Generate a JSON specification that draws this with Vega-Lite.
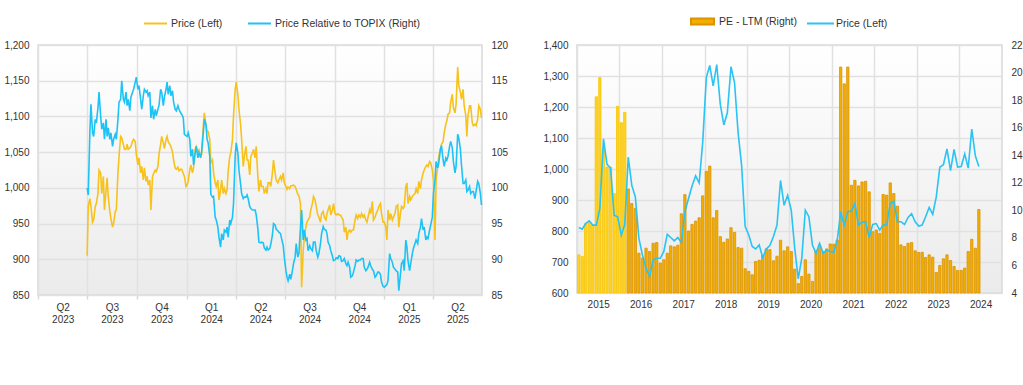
{
"$schema": "https://vega.github.io/schema/vega-lite/v6.json",
"padding": {"left": 3, "top": 8, "right": 0, "bottom": 0},
"background": "white",
"spacing": 33,
"config": {
  "font": "Liberation Sans",
  "view": {"stroke": "#d9d9d9", "strokeWidth": 1.5, "fill": {"gradient": "linear", "x1": 0, "y1": 0, "x2": 0, "y2": 1, "stops": [{"offset": 0, "color": "#ffffff"}, {"offset": 1, "color": "#ebebeb"}]}},
  "axis": {"domain": false, "labelFont": "Liberation Sans", "labelFontSize": 10, "labelColor": "#333333", "gridColor": "#e1e1e1", "gridWidth": 1.5, "ticks": false},
  "legend": {"labelFont": "Liberation Sans", "labelFontSize": 10.5, "labelColor": "#333333", "padding": 0}
},
"resolve": {"scale": {"color": "independent", "fill": "independent", "stroke": "independent"}, "legend": {"color": "independent", "fill": "independent", "stroke": "independent"}},
"datasets": {
"daily": [
{"d":"2023-07-01","p":905,"r":100.0},{"d":"2023-07-03","p":974,"r":99.0},{"d":"2023-07-06","p":985,"r":107.7},{"d":"2023-07-08","p":974,"r":111.7},{"d":"2023-07-11","p":952,"r":107.7},{"d":"2023-07-13","p":955,"r":107.2},{"d":"2023-07-16","p":974,"r":109.6},{"d":"2023-07-18","p":978,"r":109.1},{"d":"2023-07-21","p":992,"r":111.2},{"d":"2023-07-23","p":1025,"r":113.4},{"d":"2023-07-26","p":1021,"r":110.1},{"d":"2023-07-28","p":992,"r":108.2},{"d":"2023-07-31","p":1016,"r":109.1},{"d":"2023-08-02","p":969,"r":106.8},{"d":"2023-08-05","p":997,"r":109.6},{"d":"2023-08-07","p":1014,"r":107.2},{"d":"2023-08-09","p":988,"r":108.4},{"d":"2023-08-12","p":967,"r":106.8},{"d":"2023-08-14","p":957,"r":107.7},{"d":"2023-08-17","p":945,"r":105.8},{"d":"2023-08-19","p":950,"r":106.8},{"d":"2023-08-22","p":967,"r":107.5},{"d":"2023-08-24","p":969,"r":106.8},{"d":"2023-08-27","p":1021,"r":109.6},{"d":"2023-08-29","p":1044,"r":112.0},{"d":"2023-09-01","p":1072,"r":112.4},{"d":"2023-09-03","p":1070,"r":115.0},{"d":"2023-09-06","p":1061,"r":112.4},{"d":"2023-09-08","p":1054,"r":112.0},{"d":"2023-09-11","p":1054,"r":113.4},{"d":"2023-09-13","p":1061,"r":111.5},{"d":"2023-09-15","p":1054,"r":112.4},{"d":"2023-09-18","p":1056,"r":110.8},{"d":"2023-09-20","p":1058,"r":112.7},{"d":"2023-09-23","p":1065,"r":113.4},{"d":"2023-09-25","p":1068,"r":113.8},{"d":"2023-09-28","p":1065,"r":114.8},{"d":"2023-09-30","p":1047,"r":115.5},{"d":"2023-10-03","p":1032,"r":113.8},{"d":"2023-10-05","p":1042,"r":114.3},{"d":"2023-10-08","p":1021,"r":112.4},{"d":"2023-10-10","p":1030,"r":111.0},{"d":"2023-10-13","p":1011,"r":112.9},{"d":"2023-10-15","p":1028,"r":113.8},{"d":"2023-10-18","p":1009,"r":113.4},{"d":"2023-10-20","p":1016,"r":113.6},{"d":"2023-10-22","p":1004,"r":112.9},{"d":"2023-10-25","p":1011,"r":113.4},{"d":"2023-10-27","p":969,"r":109.8},{"d":"2023-10-30","p":1016,"r":111.5},{"d":"2023-11-01","p":1020,"r":109.6},{"d":"2023-11-04","p":1025,"r":111.0},{"d":"2023-11-06","p":1023,"r":110.1},{"d":"2023-11-09","p":1030,"r":111.0},{"d":"2023-11-11","p":1047,"r":111.5},{"d":"2023-11-14","p":1061,"r":113.8},{"d":"2023-11-16","p":1072,"r":113.4},{"d":"2023-11-19","p":1063,"r":111.5},{"d":"2023-11-21","p":1055,"r":112.7},{"d":"2023-11-24","p":1068,"r":113.8},{"d":"2023-11-26","p":1072,"r":114.8},{"d":"2023-11-28","p":1065,"r":113.1},{"d":"2023-12-01","p":1061,"r":114.3},{"d":"2023-12-03","p":1058,"r":112.9},{"d":"2023-12-06","p":1050,"r":113.6},{"d":"2023-12-08","p":1039,"r":112.0},{"d":"2023-12-11","p":1028,"r":111.0},{"d":"2023-12-13","p":1026,"r":110.8},{"d":"2023-12-16","p":1029,"r":111.5},{"d":"2023-12-18","p":1024,"r":111.0},{"d":"2023-12-21","p":1026,"r":110.5},{"d":"2023-12-23","p":1026,"r":110.3},{"d":"2023-12-26","p":1020,"r":109.8},{"d":"2023-12-28","p":1016,"r":107.5},{"d":"2023-12-31","p":1002,"r":107.3},
{"d":"2024-01-02","p":1004,"r":107.2},{"d":"2024-01-04","p":1009,"r":107.7},{"d":"2024-01-07","p":1025,"r":106.8},{"d":"2024-01-09","p":1032,"r":104.4},{"d":"2024-01-12","p":1021,"r":105.4},{"d":"2024-01-14","p":1028,"r":103.2},{"d":"2024-01-17","p":1054,"r":104.9},{"d":"2024-01-19","p":1058,"r":105.8},{"d":"2024-01-22","p":1050,"r":104.2},{"d":"2024-01-24","p":1053,"r":104.9},{"d":"2024-01-27","p":1044,"r":104.2},{"d":"2024-01-29","p":1047,"r":105.1},{"d":"2024-02-01","p":1087,"r":107.7},{"d":"2024-02-03","p":1105,"r":109.6},{"d":"2024-02-06","p":1087,"r":108.9},{"d":"2024-02-08","p":1079,"r":106.8},{"d":"2024-02-10","p":1079,"r":106.3},{"d":"2024-02-13","p":1068,"r":104.4},{"d":"2024-02-15","p":1035,"r":99.1},{"d":"2024-02-18","p":1039,"r":98.7},{"d":"2024-02-20","p":1021,"r":98.8},{"d":"2024-02-23","p":1007,"r":95.9},{"d":"2024-02-25","p":1002,"r":95.5},{"d":"2024-02-28","p":1011,"r":94.5},{"d":"2024-03-01","p":983,"r":93.1},{"d":"2024-03-04","p":997,"r":91.7},{"d":"2024-03-06","p":1011,"r":93.6},{"d":"2024-03-09","p":992,"r":92.7},{"d":"2024-03-11","p":999,"r":94.1},{"d":"2024-03-14","p":992,"r":93.8},{"d":"2024-03-16","p":997,"r":94.5},{"d":"2024-03-18","p":1023,"r":93.1},{"d":"2024-03-21","p":1044,"r":95.5},{"d":"2024-03-23","p":1049,"r":95.0},{"d":"2024-03-26","p":1068,"r":95.9},{"d":"2024-03-28","p":1101,"r":97.8},{"d":"2024-03-31","p":1138,"r":104.4},{"d":"2024-04-02","p":1148,"r":106.3},{"d":"2024-04-05","p":1131,"r":104.9},{"d":"2024-04-07","p":1110,"r":102.5},{"d":"2024-04-10","p":1089,"r":100.6},{"d":"2024-04-12","p":1068,"r":99.2},{"d":"2024-04-15","p":1030,"r":98.5},{"d":"2024-04-17","p":1044,"r":98.7},{"d":"2024-04-20","p":1058,"r":98.7},{"d":"2024-04-22","p":1039,"r":99.0},{"d":"2024-04-24","p":1039,"r":98.5},{"d":"2024-04-27","p":1018,"r":97.4},{"d":"2024-04-29","p":1044,"r":97.1},{"d":"2024-05-02","p":1049,"r":96.9},{"d":"2024-05-04","p":1054,"r":96.9},{"d":"2024-05-07","p":1042,"r":96.9},{"d":"2024-05-09","p":1058,"r":96.2},{"d":"2024-05-12","p":1016,"r":94.3},{"d":"2024-05-14","p":995,"r":92.4},{"d":"2024-05-17","p":1011,"r":92.3},{"d":"2024-05-19","p":1002,"r":92.4},{"d":"2024-05-22","p":1002,"r":92.3},{"d":"2024-05-24","p":992,"r":91.6},{"d":"2024-05-27","p":999,"r":91.3},{"d":"2024-05-29","p":992,"r":91.7},{"d":"2024-05-31","p":1007,"r":91.3},{"d":"2024-06-03","p":1007,"r":91.5},{"d":"2024-06-05","p":1002,"r":92.1},{"d":"2024-06-08","p":1021,"r":93.4},{"d":"2024-06-10","p":1039,"r":95.0},{"d":"2024-06-13","p":1021,"r":94.8},{"d":"2024-06-15","p":1011,"r":94.2},{"d":"2024-06-18","p":1007,"r":94.0},{"d":"2024-06-20","p":1011,"r":93.8},{"d":"2024-06-23","p":1016,"r":93.6},{"d":"2024-06-25","p":1011,"r":92.9},{"d":"2024-06-28","p":1021,"r":91.9},{"d":"2024-06-30","p":1007,"r":90.3},
{"d":"2024-07-03","p":1002,"r":88.4},{"d":"2024-07-05","p":998,"r":87.5},{"d":"2024-07-07","p":1001,"r":87.0},{"d":"2024-07-10","p":999,"r":87.9},{"d":"2024-07-12","p":1003,"r":87.2},{"d":"2024-07-15","p":1003,"r":88.4},{"d":"2024-07-17","p":1004,"r":89.4},{"d":"2024-07-20","p":1002,"r":90.3},{"d":"2024-07-22","p":998,"r":92.2},{"d":"2024-07-25","p":991,"r":90.3},{"d":"2024-07-27","p":989,"r":90.8},{"d":"2024-07-30","p":978,"r":94.5},{"d":"2024-08-01","p":861,"r":96.9},{"d":"2024-08-04","p":912,"r":92.7},{"d":"2024-08-06","p":931,"r":94.1},{"d":"2024-08-09","p":945,"r":92.7},{"d":"2024-08-11","p":952,"r":92.9},{"d":"2024-08-13","p":955,"r":91.2},{"d":"2024-08-16","p":959,"r":91.9},{"d":"2024-08-18","p":969,"r":91.5},{"d":"2024-08-21","p":978,"r":91.2},{"d":"2024-08-23","p":988,"r":92.4},{"d":"2024-08-26","p":983,"r":92.4},{"d":"2024-08-28","p":974,"r":91.2},{"d":"2024-08-31","p":962,"r":90.3},{"d":"2024-09-02","p":959,"r":90.8},{"d":"2024-09-05","p":952,"r":92.2},{"d":"2024-09-07","p":964,"r":93.6},{"d":"2024-09-10","p":967,"r":94.6},{"d":"2024-09-12","p":959,"r":94.2},{"d":"2024-09-15","p":955,"r":94.1},{"d":"2024-09-17","p":964,"r":93.6},{"d":"2024-09-19","p":969,"r":92.4},{"d":"2024-09-22","p":976,"r":91.9},{"d":"2024-09-24","p":962,"r":91.2},{"d":"2024-09-27","p":969,"r":90.5},{"d":"2024-09-29","p":978,"r":89.8},{"d":"2024-10-02","p":964,"r":89.9},{"d":"2024-10-04","p":962,"r":90.2},{"d":"2024-10-07","p":964,"r":90.1},{"d":"2024-10-09","p":962,"r":90.5},{"d":"2024-10-12","p":962,"r":90.4},{"d":"2024-10-14","p":959,"r":89.7},{"d":"2024-10-17","p":955,"r":89.8},{"d":"2024-10-19","p":938,"r":90.1},{"d":"2024-10-22","p":945,"r":89.4},{"d":"2024-10-24","p":927,"r":89.1},{"d":"2024-10-26","p":938,"r":89.6},{"d":"2024-10-29","p":941,"r":88.9},{"d":"2024-10-31","p":938,"r":87.5},{"d":"2024-11-03","p":941,"r":87.7},{"d":"2024-11-05","p":941,"r":88.2},{"d":"2024-11-08","p":955,"r":89.1},{"d":"2024-11-10","p":962,"r":89.9},{"d":"2024-11-13","p":957,"r":89.7},{"d":"2024-11-15","p":962,"r":89.9},{"d":"2024-11-18","p":959,"r":89.9},{"d":"2024-11-20","p":964,"r":90.1},{"d":"2024-11-23","p":959,"r":90.1},{"d":"2024-11-25","p":962,"r":88.9},{"d":"2024-11-28","p":955,"r":88.4},{"d":"2024-11-30","p":952,"r":88.6},{"d":"2024-12-02","p":959,"r":88.9},{"d":"2024-12-05","p":969,"r":89.6},{"d":"2024-12-07","p":964,"r":89.1},{"d":"2024-12-10","p":981,"r":88.6},{"d":"2024-12-12","p":955,"r":88.4},{"d":"2024-12-15","p":959,"r":87.5},{"d":"2024-12-17","p":964,"r":87.7},{"d":"2024-12-20","p":969,"r":88.2},{"d":"2024-12-22","p":974,"r":88.2},{"d":"2024-12-25","p":978,"r":87.9},{"d":"2024-12-27","p":964,"r":86.8},{"d":"2024-12-30","p":952,"r":86.2},
{"d":"2025-01-01","p":952,"r":86.1},{"d":"2025-01-04","p":945,"r":86.3},{"d":"2025-01-06","p":927,"r":86.5},{"d":"2025-01-08","p":969,"r":87.0},{"d":"2025-01-11","p":955,"r":90.8},{"d":"2025-01-13","p":964,"r":90.1},{"d":"2025-01-16","p":955,"r":89.6},{"d":"2025-01-18","p":959,"r":88.9},{"d":"2025-01-21","p":964,"r":88.6},{"d":"2025-01-23","p":974,"r":88.4},{"d":"2025-01-26","p":976,"r":88.2},{"d":"2025-01-28","p":945,"r":85.6},{"d":"2025-01-31","p":964,"r":87.9},{"d":"2025-02-02","p":974,"r":89.4},{"d":"2025-02-05","p":971,"r":89.8},{"d":"2025-02-07","p":974,"r":88.4},{"d":"2025-02-10","p":1002,"r":92.7},{"d":"2025-02-12","p":1007,"r":91.7},{"d":"2025-02-14","p":978,"r":89.8},{"d":"2025-02-17","p":988,"r":88.4},{"d":"2025-02-19","p":983,"r":89.4},{"d":"2025-02-22","p":988,"r":90.8},{"d":"2025-02-24","p":990,"r":91.5},{"d":"2025-02-27","p":992,"r":92.2},{"d":"2025-03-01","p":999,"r":92.7},{"d":"2025-03-04","p":992,"r":92.2},{"d":"2025-03-06","p":1009,"r":93.6},{"d":"2025-03-09","p":999,"r":94.5},{"d":"2025-03-11","p":1011,"r":95.7},{"d":"2025-03-14","p":1021,"r":94.1},{"d":"2025-03-16","p":1025,"r":94.5},{"d":"2025-03-19","p":1030,"r":92.7},{"d":"2025-03-21","p":1032,"r":93.1},{"d":"2025-03-23","p":1030,"r":92.9},{"d":"2025-03-26","p":1037,"r":94.1},{"d":"2025-03-28","p":1035,"r":94.8},{"d":"2025-03-31","p":1025,"r":95.9},{"d":"2025-04-02","p":1011,"r":99.2},{"d":"2025-04-05","p":927,"r":101.1},{"d":"2025-04-07","p":1011,"r":103.7},{"d":"2025-04-10","p":1030,"r":102.8},{"d":"2025-04-12","p":1044,"r":103.5},{"d":"2025-04-15","p":1054,"r":105.4},{"d":"2025-04-17","p":1061,"r":105.9},{"d":"2025-04-20","p":1065,"r":103.9},{"d":"2025-04-22","p":1077,"r":103.0},{"d":"2025-04-25","p":1089,"r":104.2},{"d":"2025-04-27","p":1094,"r":103.9},{"d":"2025-04-29","p":1103,"r":104.4},{"d":"2025-05-02","p":1105,"r":105.8},{"d":"2025-05-04","p":1120,"r":106.5},{"d":"2025-05-07","p":1131,"r":105.6},{"d":"2025-05-09","p":1112,"r":103.7},{"d":"2025-05-12","p":1105,"r":102.1},{"d":"2025-05-14","p":1117,"r":103.0},{"d":"2025-05-17","p":1169,"r":107.5},{"d":"2025-05-19","p":1143,"r":107.0},{"d":"2025-05-22","p":1134,"r":105.4},{"d":"2025-05-24","p":1124,"r":103.2},{"d":"2025-05-27","p":1138,"r":100.6},{"d":"2025-05-29","p":1115,"r":100.6},{"d":"2025-06-01","p":1101,"r":101.1},{"d":"2025-06-03","p":1072,"r":99.5},{"d":"2025-06-05","p":1101,"r":99.7},{"d":"2025-06-08","p":1115,"r":100.2},{"d":"2025-06-10","p":1115,"r":99.2},{"d":"2025-06-13","p":1091,"r":99.5},{"d":"2025-06-15","p":1087,"r":99.5},{"d":"2025-06-18","p":1089,"r":98.5},{"d":"2025-06-20","p":1087,"r":99.5},{"d":"2025-06-23","p":1096,"r":100.9},{"d":"2025-06-25","p":1115,"r":100.6},{"d":"2025-06-28","p":1110,"r":99.2},{"d":"2025-06-30","p":1098,"r":97.6}
],
"monthly": [
{"m":"2015-01-01","pe":6.77,"px":811},{"m":"2015-02-01","pe":6.65,"px":806},{"m":"2015-03-01","pe":9.05,"px":824},{"m":"2015-04-01","pe":9.17,"px":833},{"m":"2015-05-01","pe":8.93,"px":819},{"m":"2015-06-01","pe":18.24,"px":819},{"m":"2015-07-01","pe":19.63,"px":873},{"m":"2015-08-01","pe":14.46,"px":1097},{"m":"2015-09-01","pe":13.14,"px":1015},{"m":"2015-10-01","pe":13.14,"px":1003},{"m":"2015-11-01","pe":11.22,"px":851},{"m":"2015-12-01","pe":17.55,"px":846},
{"m":"2016-01-01","pe":16.36,"px":787},{"m":"2016-02-01","pe":17.11,"px":821},{"m":"2016-03-01","pe":11.55,"px":1038},{"m":"2016-04-01","pe":10.5,"px":947},{"m":"2016-05-01","pe":10.14,"px":910},{"m":"2016-06-01","pe":6.89,"px":776},{"m":"2016-07-01","pe":6.53,"px":723},{"m":"2016-08-01","pe":7.25,"px":680},{"m":"2016-09-01","pe":7.01,"px":654},{"m":"2016-10-01","pe":7.61,"px":707},{"m":"2016-11-01","pe":7.66,"px":712},{"m":"2016-12-01","pe":6.17,"px":712},
{"m":"2017-01-01","pe":6.41,"px":734},{"m":"2017-02-01","pe":6.89,"px":789},{"m":"2017-03-01","pe":7.42,"px":779},{"m":"2017-04-01","pe":7.35,"px":768},{"m":"2017-05-01","pe":7.47,"px":779},{"m":"2017-06-01","pe":9.75,"px":763},{"m":"2017-07-01","pe":11.14,"px":862},{"m":"2017-08-01","pe":8.5,"px":905},{"m":"2017-09-01","pe":8.98,"px":945},{"m":"2017-10-01","pe":9.22,"px":978},{"m":"2017-11-01","pe":9.46,"px":955},{"m":"2017-12-01","pe":11.05,"px":1086},
{"m":"2018-01-01","pe":12.83,"px":1295},{"m":"2018-02-01","pe":13.21,"px":1334},{"m":"2018-03-01","pe":9.46,"px":1268},{"m":"2018-04-01","pe":9.99,"px":1337},{"m":"2018-05-01","pe":8.09,"px":1209},{"m":"2018-06-01","pe":7.68,"px":1142},{"m":"2018-07-01","pe":7.92,"px":1182},{"m":"2018-08-01","pe":8.74,"px":1330},{"m":"2018-09-01","pe":8.4,"px":1279},{"m":"2018-10-01","pe":7.3,"px":1118},{"m":"2018-11-01","pe":7.25,"px":1011},{"m":"2018-12-01","pe":5.76,"px":814},
{"m":"2019-01-01","pe":5.57,"px":787},{"m":"2019-02-01","pe":5.32,"px":750},{"m":"2019-03-01","pe":6.29,"px":742},{"m":"2019-04-01","pe":6.38,"px":755},{"m":"2019-05-01","pe":6.72,"px":714},{"m":"2019-06-01","pe":7.2,"px":742},{"m":"2019-07-01","pe":7.15,"px":753},{"m":"2019-08-01","pe":6.34,"px":782},{"m":"2019-09-01","pe":6.67,"px":819},{"m":"2019-10-01","pe":7.83,"px":963},{"m":"2019-11-01","pe":7.06,"px":883},{"m":"2019-12-01","pe":7.35,"px":915},
{"m":"2020-01-01","pe":7.01,"px":867},{"m":"2020-02-01","pe":5.73,"px":744},{"m":"2020-03-01","pe":4.68,"px":646},{"m":"2020-04-01","pe":5.2,"px":712},{"m":"2020-05-01","pe":6.41,"px":867},{"m":"2020-06-01","pe":5.37,"px":846},{"m":"2020-07-01","pe":4.84,"px":755},{"m":"2020-08-01","pe":7.06,"px":728},{"m":"2020-09-01","pe":7.49,"px":760},{"m":"2020-10-01","pe":7.01,"px":728},{"m":"2020-11-01","pe":7.2,"px":739},{"m":"2020-12-01","pe":7.56,"px":734},
{"m":"2021-01-01","pe":7.54,"px":731},{"m":"2021-02-01","pe":7.85,"px":771},{"m":"2021-03-01","pe":20.4,"px":862},{"m":"2021-04-01","pe":19.18,"px":819},{"m":"2021-05-01","pe":20.4,"px":862},{"m":"2021-06-01","pe":11.82,"px":864},{"m":"2021-07-01","pe":12.18,"px":889},{"m":"2021-08-01","pe":11.77,"px":819},{"m":"2021-09-01","pe":12.06,"px":828},{"m":"2021-10-01","pe":12.11,"px":830},{"m":"2021-11-01","pe":11.34,"px":779},{"m":"2021-12-01","pe":8.45,"px":821},
{"m":"2022-01-01","pe":8.57,"px":824},{"m":"2022-02-01","pe":8.33,"px":803},{"m":"2022-03-01","pe":11.15,"px":819},{"m":"2022-04-01","pe":11.1,"px":819},{"m":"2022-05-01","pe":11.99,"px":889},{"m":"2022-06-01","pe":11.22,"px":896},{"m":"2022-07-01","pe":10.3,"px":830},{"m":"2022-08-01","pe":7.49,"px":830},{"m":"2022-09-01","pe":7.37,"px":821},{"m":"2022-10-01","pe":7.61,"px":844},{"m":"2022-11-01","pe":7.66,"px":856},{"m":"2022-12-01","pe":7.06,"px":830},
{"m":"2023-01-01","pe":6.94,"px":816},{"m":"2023-02-01","pe":6.96,"px":819},{"m":"2023-03-01","pe":6.58,"px":846},{"m":"2023-04-01","pe":6.77,"px":876},{"m":"2023-05-01","pe":6.6,"px":854},{"m":"2023-06-01","pe":5.49,"px":910},{"m":"2023-07-01","pe":6.0,"px":1006},{"m":"2023-08-01","pe":6.48,"px":1014},{"m":"2023-09-01","pe":6.77,"px":1065},{"m":"2023-10-01","pe":6.36,"px":995},{"m":"2023-11-01","pe":5.93,"px":1063},{"m":"2023-12-01","pe":5.64,"px":1006},
{"m":"2024-01-01","pe":5.64,"px":1008},{"m":"2024-02-01","pe":5.81,"px":1049},{"m":"2024-03-01","pe":7.01,"px":1003},{"m":"2024-04-01","pe":7.9,"px":1129},{"m":"2024-05-01","pe":7.25,"px":1043},{"m":"2024-06-01","pe":10.06,"px":1008}
]
},
"hconcat": [
{
  "width": 444, "height": 250,
  "data": {"name": "daily"},
  "layer": [
    {
      "mark": {"type": "line", "strokeWidth": 1.6},
      "encoding": {
        "x": {"field": "d", "type": "temporal", "title": null,
          "scale": {"type": "utc", "domain": [{"year": 2023, "month": 4, "date": 1, "utc": true}, {"year": 2025, "month": 7, "date": 1, "utc": true}]},
          "axis": {"values": [{"year": 2023, "month": 4, "date": 1, "utc": true}, {"year": 2023, "month": 7, "date": 1, "utc": true}, {"year": 2023, "month": 10, "date": 1, "utc": true}, {"year": 2024, "month": 1, "date": 1, "utc": true}, {"year": 2024, "month": 4, "date": 1, "utc": true}, {"year": 2024, "month": 7, "date": 1, "utc": true}, {"year": 2024, "month": 10, "date": 1, "utc": true}, {"year": 2025, "month": 1, "date": 1, "utc": true}, {"year": 2025, "month": 4, "date": 1, "utc": true}],
            "labelExpr": "['Q' + utcquarter(datum.value), '' + utcyear(datum.value)]",
            "labelOffset": 24.7, "labelFlush": false, "labelOverlap": false, "labelBound": false, "labelAlign": "center", "labelBaseline": "top", "labelLineHeight": 12,
            "grid": true, "ticks": true, "tickColor": "#d9d9d9", "tickSize": 4, "tickWidth": 1.5, "labelPadding": 3}},
        "y": {"field": "p", "type": "quantitative", "title": null,
          "scale": {"domain": [850, 1200], "zero": false, "nice": false},
          "axis": {"orient": "left", "values": [850, 900, 950, 1000, 1050, 1100, 1150, 1200], "format": ",.0f", "grid": true, "labelPadding": 9}},
        "color": {"datum": "Price (Left)",
          "scale": {"domain": ["Price (Left)", "Price Relative to TOPIX (Right)"], "range": ["#F7C21B", "#1EC3F6"]},
          "legend": {"orient": "none", "legendX": 105, "legendY": -34, "direction": "horizontal", "title": null, "symbolType": "stroke", "symbolSize": 529, "symbolStrokeWidth": 2, "columnPadding": 21, "labelOffset": 3}}
      }
    },
    {
      "mark": {"type": "line", "strokeWidth": 1.6},
      "encoding": {
        "x": {"field": "d", "type": "temporal"},
        "y": {"field": "r", "type": "quantitative", "title": null,
          "scale": {"domain": [85, 120], "zero": false, "nice": false},
          "axis": {"orient": "right", "values": [85, 90, 95, 100, 105, 110, 115, 120], "format": "d", "grid": false, "labelPadding": 9}},
        "color": {"datum": "Price Relative to TOPIX (Right)"}
      }
    }
  ],
  "resolve": {"scale": {"y": "independent"}}
},
{
  "width": 425, "height": 248,
  "data": {"name": "monthly"},
  "layer": [
    {
      "mark": {"type": "bar", "width": 2.3, "strokeWidth": 0.8},
      "encoding": {
        "x": {"field": "m", "type": "temporal", "timeUnit": "utcyearmonth", "bandPosition": 0.5, "title": null,
          "scale": {"domain": [{"year": 2015, "month": 1, "date": 1, "utc": true}, {"year": 2025, "month": 1, "date": 1, "utc": true}]},
          "axis": {"values": [{"year": 2015, "month": 1, "date": 1, "utc": true}, {"year": 2016, "month": 1, "date": 1, "utc": true}, {"year": 2017, "month": 1, "date": 1, "utc": true}, {"year": 2018, "month": 1, "date": 1, "utc": true}, {"year": 2019, "month": 1, "date": 1, "utc": true}, {"year": 2020, "month": 1, "date": 1, "utc": true}, {"year": 2021, "month": 1, "date": 1, "utc": true}, {"year": 2022, "month": 1, "date": 1, "utc": true}, {"year": 2023, "month": 1, "date": 1, "utc": true}, {"year": 2024, "month": 1, "date": 1, "utc": true}],
            "labelExpr": "'' + utcyear(datum.value)", "labelOffset": 21.2, "labelFlush": false, "labelOverlap": false, "labelBound": false, "labelAlign": "center", "labelBaseline": "top",
            "grid": true, "labelPadding": 6}},
        "y": {"field": "pe", "type": "quantitative", "title": null,
          "scale": {"domain": [4, 22], "zero": false, "nice": false},
          "axis": {"orient": "right", "values": [4, 6, 8, 10, 12, 14, 16, 18, 20, 22], "format": "d", "grid": false, "labelPadding": 9}},
        "y2": {"datum": 4},
        "fill": {"datum": "PE - LTM (Right)",
          "condition": {"test": "time(datum.m) < utc(2016, 2, 1)", "value": "#FFD224"},
          "scale": {"domain": ["PE - LTM (Right)"], "range": ["#F2AF00"]},
          "legend": {"orient": "none", "legendX": 113, "legendY": -36, "title": null, "symbolType": "M-1,-0.27H1V0.27H-1Z", "symbolSize": 529, "labelOffset": 4, "symbolStrokeWidth": 2,
            "encode": {"symbols": {"fill": {"value": "#C0504D"}, "stroke": {"value": "#F2B000"}, "strokeWidth": {"value": 2}}}}},
        "stroke": {"condition": {"test": "time(datum.m) < utc(2016, 2, 1)", "value": "#F7C500"}, "value": "#DD9200"}
      }
    },
    {
      "mark": {"type": "line", "strokeWidth": 1.6},
      "encoding": {
        "x": {"field": "m", "type": "temporal", "timeUnit": "utcyearmonth", "bandPosition": 0.5},
        "y": {"field": "px", "type": "quantitative", "title": null,
          "scale": {"domain": [600, 1400], "zero": false, "nice": false},
          "axis": {"orient": "left", "values": [600, 700, 800, 900, 1000, 1100, 1200, 1300, 1400], "format": ",.0f", "grid": true, "labelPadding": 9}},
        "stroke": {"datum": "Price (Left)",
          "scale": {"domain": ["Price (Left)"], "range": ["#29C3F4"]},
          "legend": {"orient": "none", "legendX": 229, "legendY": -36, "title": null, "symbolType": "stroke", "symbolSize": 729, "symbolStrokeWidth": 2, "labelOffset": 1}}
      }
    }
  ],
  "resolve": {"scale": {"y": "independent"}}
}
]
}
